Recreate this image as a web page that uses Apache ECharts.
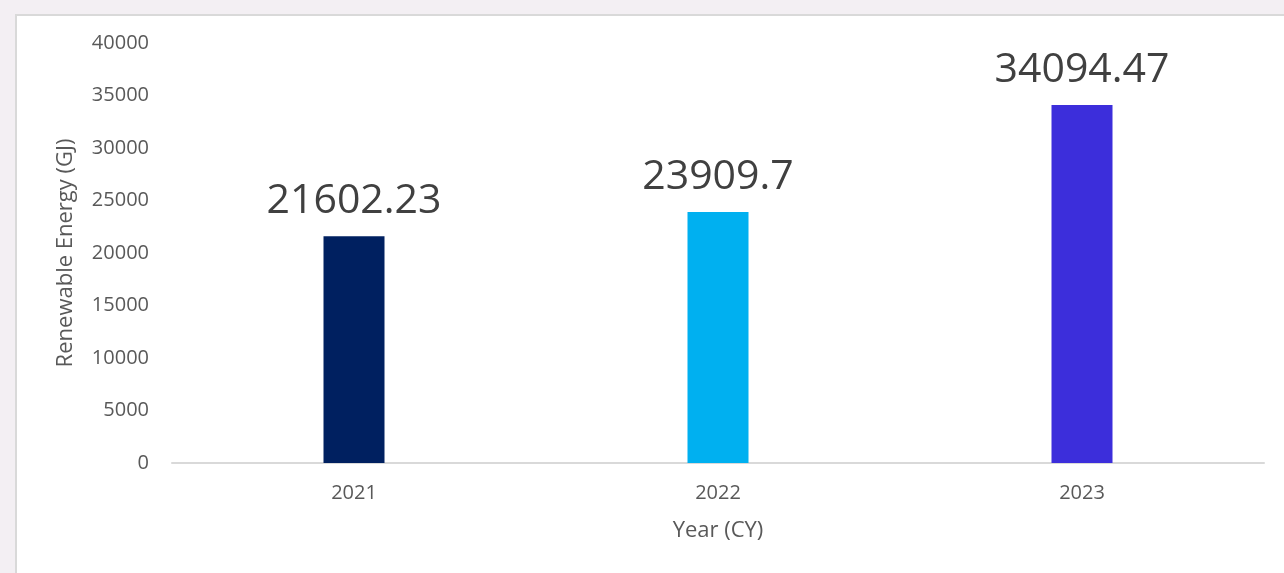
<!DOCTYPE html>
<html>
  <head>
    <meta charset="utf-8">
    <title>Renewable Energy</title>
    <style>
        *{
            padding: 0;
            margin: 0;
        }
        body{
            width: 1284px;
            height: 573px;
            background-color: #f3eff3;
            overflow: hidden;
            position: relative;
        }
        .panel{
            position: absolute;
            left: 15px;
            top: 14px;
            right: 0;
            bottom: 0;
            background-color: #ffffff;
            border-left: 2px solid #d9d9d9;
            border-top: 2px solid #d9d9d9;
        }
        #chart{
            position: absolute;
            left: 0;
            top: 0;
            width: 1284px;
            height: 573px;
        }
    </style>
  </head>
  <body>
    <div class="panel"></div>
    <div id="chart"></div>
    <script src="https://cdn.jsdelivr.net/npm/echarts@6/dist/echarts.min.js"></script>
    <script type="text/javascript">
        var years = ['2021', '2022', '2023'];
        var energy = [21602.23, 23909.7, 34094.47];
        var barColors = ['#002060', '#00b0f0', '#3c2edb'];
        var yTicks = [0, 5000, 10000, 15000, 20000, 25000, 30000, 35000, 40000];

        var myChart = echarts.init(document.getElementById('chart'));
        var option = {
            backgroundColor: 'transparent',
            textStyle: { fontFamily: 'Open Sans' },
            grid: {
                left: 172,
                right: 20,
                top: 43,
                bottom: 110
            },
            xAxis: {
                type: 'category',
                data: years,
                name: 'Year (CY)',
                nameLocation: 'middle',
                nameGap: 57,
                nameTextStyle: { fontSize: 22, color: '#595959', fontFamily: 'Open Sans' },
                axisLine: { lineStyle: { color: '#d9d9d9', width: 2 } },
                axisTick: { show: false },
                axisLabel: { fontSize: 20, color: '#595959', margin: 20 }
            },
            yAxis: {
                type: 'value',
                min: yTicks[0],
                max: yTicks[yTicks.length - 1],
                interval: yTicks[1] - yTicks[0],
                name: 'Renewable Energy (GJ)',
                nameLocation: 'middle',
                nameGap: 95,
                nameTextStyle: { fontSize: 22, color: '#595959', fontFamily: 'Open Sans' },
                splitLine: { show: false },
                axisLine: { show: false },
                axisTick: { show: false },
                axisLabel: {
                    fontSize: 20,
                    color: '#595959',
                    margin: 23,
                    formatter: function (v) { return String(v); }
                }
            },
            series: [{
                type: 'bar',
                barWidth: 61,
                data: energy.map(function (v, i) {
                    return { value: v, itemStyle: { color: barColors[i] } };
                }),
                label: {
                    show: true,
                    position: 'top',
                    distance: 14,
                    fontSize: 41,
                    color: '#404040',
                    fontFamily: 'Open Sans'
                }
            }]
        };
        myChart.setOption(option);
    </script>
  </body>
</html>
